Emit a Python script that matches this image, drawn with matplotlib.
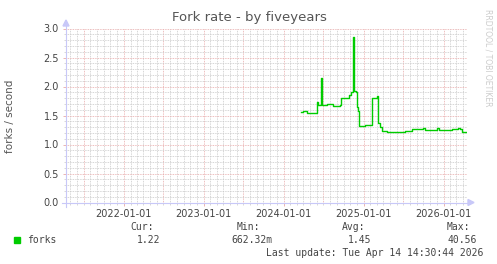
import matplotlib
matplotlib.use("Agg")
import matplotlib.pyplot as plt
import matplotlib.dates as mdates
import numpy as np
import pandas as pd

# ======================
# data
# ======================
DATES = [
    "2024-03-20", "2024-03-31", "2024-04-15", "2024-05-23", "2024-05-31",
    "2024-06-08", "2024-06-19", "2024-06-26", "2024-07-16", "2024-08-15",
    "2024-09-15", "2024-09-19", "2024-10-23", "2024-10-27", "2024-11-04",
    "2024-11-12", "2024-11-18", "2024-11-27", "2024-12-03", "2024-12-08",
    "2024-12-12", "2025-01-08", "2025-01-31", "2025-02-06", "2025-02-22",
    "2025-03-03", "2025-03-09", "2025-03-17", "2025-03-25", "2025-04-17",
    "2025-04-24", "2025-05-02", "2025-07-02", "2025-07-10", "2025-07-25",
    "2025-08-10", "2025-09-24", "2025-09-28", "2025-10-06", "2025-11-24",
    "2025-12-02", "2025-12-09", "2026-02-01", "2026-02-09", "2026-03-03",
    "2026-03-07", "2026-03-18", "2026-03-26", "2026-04-13",
]
FORKS = [
    1.555, 1.57, 1.55, 1.55, 1.74,
    1.68, 2.14, 1.68, 1.69, 1.67,
    1.68, 1.81, 1.81, 1.85, 1.91,
    2.86, 1.92, 1.91, 1.64, 1.58,
    1.32, 1.33, 1.34, 1.80, 1.80,
    1.83, 1.37, 1.31, 1.23, 1.22,
    1.21, 1.22, 1.22, 1.24, 1.23,
    1.26, 1.26, 1.29, 1.25, 1.25,
    1.29, 1.25, 1.25, 1.26, 1.26,
    1.29, 1.26, 1.22, 1.21,
]
Y_TICKS = [0.0, 0.5, 1.0, 1.5, 2.0, 2.5, 3.0]
X_START, X_END = "2021-04-12", "2026-04-18"

LEGEND_HEAD = ["Cur:", "Min:", "Avg:", "Max:"]
LEGEND_VALS = ["1.22", "662.32m", "1.45", "40.56"]

# ======================
# style
# ======================
W, H = 497, 264
LINE_C = "#00CC00"
AXIS_C = "#C8C8F8"
MINOR_C = "#C8C8C8"
MAJOR_C = "#E8A8A8"
TEXT_C = "#444444"
MONO = "DejaVu Sans Mono"

fig = plt.figure(figsize=(W / 100, H / 100), dpi=100)
fig.patch.set_facecolor("white")

# plot area in pixels: x 66..467, y 28.5..202.5
L, R, T, B = 66, 467, 28.5, 202.5
ax = fig.add_axes([L / W, 1 - B / H, (R - L) / W, (B - T) / H])
ax.set_facecolor("white")

x = pd.to_datetime(DATES)
ax.plot(x, FORKS, color=LINE_C, lw=1.0, drawstyle="steps-post", zorder=5)

ax.set_xlim(pd.Timestamp(X_START), pd.Timestamp(X_END))
ax.set_ylim(0, 3.0)

# grid
ax.xaxis.set_major_locator(mdates.YearLocator())
ax.xaxis.set_major_formatter(mdates.DateFormatter("%Y-%m-%d"))
ax.xaxis.set_minor_locator(mdates.MonthLocator())
ax.set_yticks(Y_TICKS)
ax.set_yticklabels([f"{v:.1f}" for v in Y_TICKS])
ax.set_yticks(np.arange(0, 3.01, 0.1), minor=True)

for m in pd.date_range("2021-05-01", X_END, freq="MS"):
    v = mdates.date2num(m)
    major = m.month in (1, 7)
    ax.axvline(v, color=MAJOR_C if major else MINOR_C, lw=0.6, ls=(0, (1, 1)), zorder=1)
for i in range(1, 31):
    major = i % 5 == 0
    ax.axhline(i / 10, color=MAJOR_C if major else MINOR_C, lw=0.6, ls=(0, (1, 1)), zorder=1)

for s in ax.spines.values():
    s.set_visible(False)

ax.tick_params(axis="both", which="major", length=2, width=0.6, color=MAJOR_C,
               labelsize=7, labelcolor=TEXT_C, pad=3)
ax.tick_params(axis="both", which="minor", length=1.5, width=0.5, color=MINOR_C)

# axis lines with arrows
fig.add_artist(plt.Line2D([L, L], [H - 207, H - 24], transform=None, color=AXIS_C, lw=0.8))
fig.add_artist(plt.Line2D([62, 470], [H - B, H - B], transform=None, color=AXIS_C, lw=0.8))
fig.add_artist(plt.Polygon([[L - 3, H - 26], [L + 3, H - 26], [L, H - 20]], closed=True,
                           transform=None, color=AXIS_C))
fig.add_artist(plt.Polygon([[468, H - B - 3], [468, H - B + 3], [474, H - B]], closed=True,
                           transform=None, color=AXIS_C))

# texts
def px(xp, yp):
    return xp / W, 1 - yp / H

fig.text(*px(249, 17), "Fork rate - by fiveyears", ha="center", va="center",
         fontsize=9.5, color="#555555")
fig.text(*px(10, 116), "forks / second", ha="center", va="center", rotation=90,
         fontsize=7.5, color="#555555")
fig.text(*px(488, 58), "RRDTOOL / TOBI OETIKER", ha="center", va="center", rotation=270,
         fontsize=5.5, color="#CCCCCC")

head_right = [154, 260, 365, 470]
val_right = [160, 273, 371, 477]
for hx, t in zip(head_right, LEGEND_HEAD):
    fig.text(*px(hx, 227), t, ha="right", va="center", fontsize=7, family=MONO, color=TEXT_C)
for vx, t in zip(val_right, LEGEND_VALS):
    fig.text(*px(vx, 240), t, ha="right", va="center", fontsize=7, family=MONO, color=TEXT_C)

fig.add_artist(plt.Rectangle((14, H - 243), 6, 6, transform=None, color=LINE_C))
fig.text(*px(27, 240), "forks", ha="left", va="center", fontsize=7, family=MONO, color=TEXT_C)
fig.text(*px(483, 252.5), "Last update: Tue Apr 14 14:30:44 2026", ha="right", va="center",
         fontsize=7, family=MONO, color=TEXT_C)

fig.savefig("out.png", dpi=100, facecolor="white")
